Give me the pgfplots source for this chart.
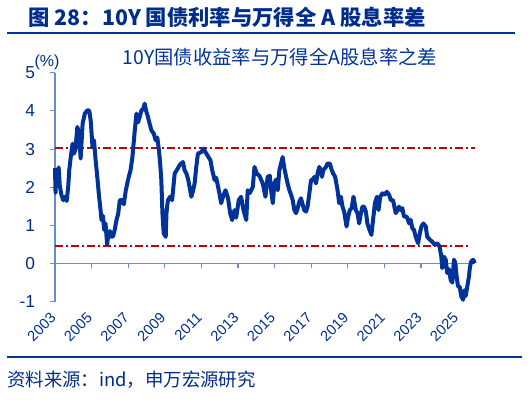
\documentclass[border=0pt]{standalone}
\usepackage{pgfplots}
\pgfplotsset{compat=1.18}
\usepackage{fontspec}
\setmainfont{Liberation Sans}
\newfontfamily\cjk{Noto Sans CJK SC}
\definecolor{navy}{RGB}{0,45,140}
\definecolor{lineblue}{RGB}{0,51,153}
\definecolor{axblue}{RGB}{100,140,215}
\definecolor{dred}{RGB}{192,0,0}
\begin{document}
\begin{tikzpicture}
\path[use as bounding box] (-41.25pt,-72.98pt) rectangle (357.75pt,226.28pt);
\begin{axis}[
  at={(0,0)}, anchor=south west,
  width=315pt, height=171.75pt, scale only axis,
  xmin=2003, xmax=2025.95, ymin=-1, ymax=5,
  axis y line=left, axis x line=middle,
  axis line style={-, draw=axblue, line width=0.8pt},
  hide obscured x ticks=false, hide obscured y ticks=false,
  xtick={2003,2005,...,2025}, ytick={-1,0,...,5},
  tick align=outside, major tick length=3.5pt,
  tick style={draw=axblue, line width=0.8pt},
  xticklabel style={yshift=-33pt, xshift=1pt, rotate=45, anchor=east, font=\fontsize{11}{11}\selectfont, text=navy},
  yticklabel style={font=\fontsize{13}{13}\selectfont, text=navy, xshift=-8pt},
  /pgf/number format/assume math mode=true,
  xticklabel={\pgfmathprintnumber[precision=0,1000 sep={}]{\tick}},
  scaled x ticks=false,
  clip=false,
]
\addplot[dred, line width=1.5pt, dash pattern=on 6pt off 2pt on 2pt off 2pt] coordinates {(2003,3.03) (2025.95,3.03)};
\addplot[dred, line width=1.5pt, dash pattern=on 6pt off 2pt on 2pt off 2pt] coordinates {(2003,0.47) (2025.72,0.47)};
\addplot[lineblue, line width=3pt, line join=round] coordinates {
(2003.00,2.50) (2003.03,1.85) (2003.08,2.45) (2003.15,2.30) (2003.20,2.52) (2003.26,2.05)
(2003.35,1.80) (2003.45,1.66) (2003.55,1.75) (2003.64,1.64) (2003.72,2.00) (2003.78,2.45)
(2003.86,2.79) (2003.96,3.14) (2004.04,2.88) (2004.12,3.00) (2004.22,3.58) (2004.32,3.40)
(2004.40,2.75) (2004.51,3.67) (2004.63,3.93) (2004.76,4.01) (2004.87,4.01) (2004.95,3.75)
(2005.05,3.05) (2005.13,3.23) (2005.22,2.71) (2005.31,2.27) (2005.41,1.75) (2005.49,1.40)
(2005.54,1.14) (2005.62,1.25) (2005.69,0.88) (2005.76,1.05) (2005.85,0.50) (2005.92,0.80)
(2006.00,0.85) (2006.09,0.70) (2006.18,0.72) (2006.27,0.90) (2006.36,1.14) (2006.45,1.30)
(2006.54,1.66) (2006.69,1.66) (2006.76,1.55) (2006.87,1.92) (2006.99,2.19) (2007.13,2.45)
(2007.23,2.79) (2007.36,3.49) (2007.45,3.93) (2007.54,3.70) (2007.63,3.84) (2007.72,4.01)
(2007.82,4.05) (2007.90,4.19) (2007.98,4.00) (2008.08,3.84) (2008.18,3.65) (2008.27,3.49)
(2008.40,3.40) (2008.50,3.23) (2008.59,3.30) (2008.68,2.97) (2008.75,2.60) (2008.81,2.19)
(2008.87,1.32) (2008.94,0.79) (2009.05,0.70) (2009.09,1.32) (2009.17,1.66) (2009.29,1.75)
(2009.40,1.66) (2009.54,2.36) (2009.66,2.45) (2009.81,2.58) (2009.99,2.66) (2010.08,2.45)
(2010.18,2.36) (2010.28,2.20) (2010.45,1.75) (2010.54,1.90) (2010.63,2.10) (2010.72,2.53)
(2010.81,2.88) (2010.99,2.92) (2011.12,3.01) (2011.27,2.88) (2011.37,2.80) (2011.49,2.71)
(2011.59,2.45) (2011.72,2.19) (2011.81,2.25) (2011.95,1.92) (2012.08,1.58) (2012.21,1.80)
(2012.32,1.92) (2012.46,1.70) (2012.57,1.32) (2012.68,1.14) (2012.81,1.40) (2012.90,1.20)
(2013.04,1.66) (2013.17,1.75) (2013.30,1.40) (2013.45,1.14) (2013.53,1.92) (2013.65,1.85)
(2013.81,2.01) (2013.90,2.53) (2014.04,2.35) (2014.17,2.30) (2014.35,2.10) (2014.50,1.75)
(2014.62,2.27) (2014.74,2.30) (2014.81,1.92) (2014.90,1.58) (2014.99,2.10) (2015.08,2.20)
(2015.17,1.92) (2015.26,2.45) (2015.35,2.62) (2015.44,2.79) (2015.53,2.50) (2015.63,2.27)
(2015.71,2.10) (2015.81,1.92) (2015.90,1.80) (2015.99,1.66) (2016.08,1.40) (2016.17,1.32)
(2016.26,1.45) (2016.35,1.62) (2016.44,1.71) (2016.53,1.55) (2016.62,1.40) (2016.72,1.36)
(2016.80,1.49) (2016.90,1.84) (2016.99,2.19) (2017.08,2.19) (2017.17,2.27) (2017.26,2.10)
(2017.35,2.36) (2017.44,2.53) (2017.53,2.45) (2017.59,2.27) (2017.66,2.45) (2017.81,2.53)
(2017.89,2.62) (2018.02,2.62) (2018.12,2.45) (2018.20,2.36) (2018.31,2.27) (2018.44,1.92)
(2018.53,1.58) (2018.62,1.75) (2018.71,1.49) (2018.80,1.36) (2018.93,0.97) (2019.02,1.23)
(2019.11,1.40) (2019.21,1.45) (2019.31,1.75) (2019.44,1.40) (2019.53,1.32) (2019.62,1.05)
(2019.71,1.30) (2019.80,1.49) (2019.89,1.49) (2019.99,1.35) (2020.07,1.05) (2020.17,0.90)
(2020.29,0.75) (2020.37,1.10) (2020.48,1.58) (2020.59,1.75) (2020.68,1.40) (2020.77,1.75)
(2020.89,1.84) (2021.01,1.80) (2021.13,1.88) (2021.26,1.80) (2021.35,1.66) (2021.47,1.66)
(2021.62,1.32) (2021.71,1.40) (2021.80,1.49) (2021.89,1.40) (2021.98,1.45) (2022.07,1.23)
(2022.22,1.23) (2022.35,1.05) (2022.43,1.15) (2022.53,0.92) (2022.62,0.88) (2022.71,0.70)
(2022.84,0.53) (2022.94,0.80) (2023.02,0.97) (2023.13,1.05) (2023.26,0.97) (2023.34,0.70)
(2023.49,0.62) (2023.62,0.57) (2023.75,0.49) (2023.89,0.53) (2024.01,0.45) (2024.11,0.18)
(2024.16,-0.12) (2024.25,0.18) (2024.35,0.10) (2024.43,-0.25) (2024.53,-0.15) (2024.62,-0.43)
(2024.71,-0.50) (2024.80,0.10) (2024.85,0.05) (2024.95,-0.34) (2025.02,-0.60) (2025.11,-0.60)
(2025.20,-0.86) (2025.30,-0.95) (2025.36,-0.70) (2025.44,-0.85) (2025.53,-0.60) (2025.62,-0.34)
(2025.67,-0.10) (2025.74,0.05) (2025.85,0.10) (2025.94,0.01)
};
\end{axis}
% header and decorations
\node[anchor=west, text=navy, font=\cjk\bfseries\fontsize{16}{16}\selectfont, inner sep=0pt] at (-20pt,213.5pt) {图 28：10Y 国债利率与万得全 A 股息率差};
\draw[lineblue, line width=1.5pt] (-36pt,201.9pt) -- (345pt,201.9pt);
\node[text=lineblue, font=\cjk\fontsize{14.5}{14.5}\selectfont, inner sep=0pt] at (168.75pt,183.5pt) {10Y国债收益率与万得全A股息率之差};
\node[text=navy, font=\fontsize{12}{12}\selectfont, inner sep=0pt] at (-6pt,179.8pt) {(\%)};
\draw[lineblue, line width=1.5pt] (-36pt,-41.25pt) -- (350pt,-41.25pt);
\node[anchor=west, text=navy, font=\cjk\fontsize{13.8}{13.8}\selectfont, inner sep=0pt] at (-36pt,-58.7pt) {资料来源：ind，申万宏源研究};
\end{tikzpicture}
\end{document}
